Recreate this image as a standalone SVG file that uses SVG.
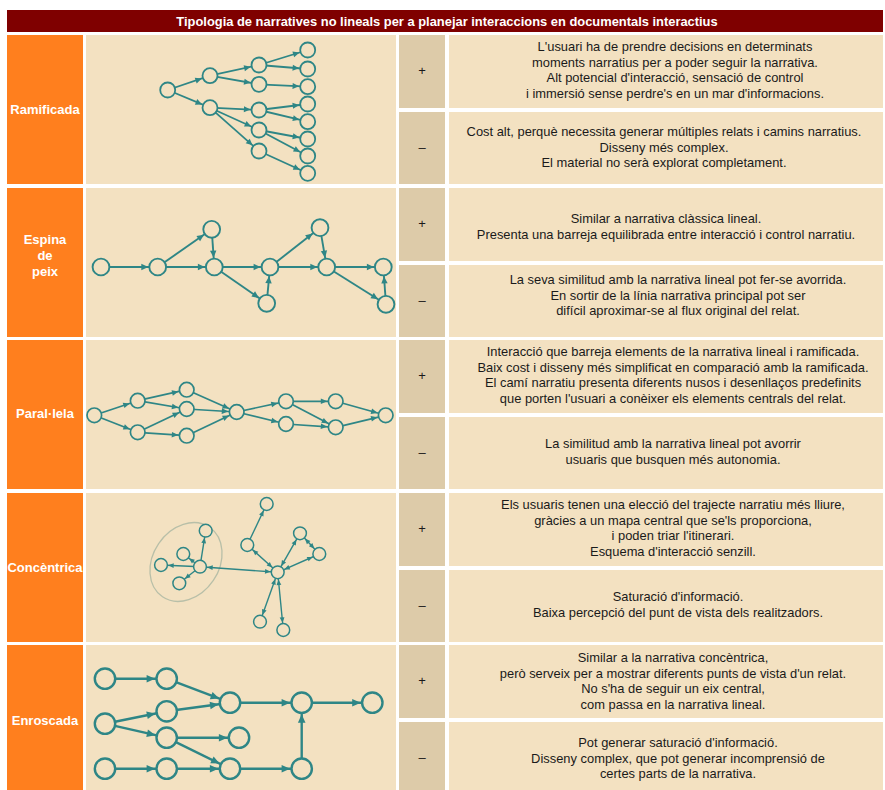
<svg xmlns="http://www.w3.org/2000/svg" width="885" height="790" viewBox="0 0 885 790">
<style>
.hdr{fill:#7f0000}
.lab{fill:#ff7f1e}
.dia{fill:#f3e1c1}
.sig{fill:#ddcba9}
.cel{fill:#f3e1c1}
text{font-family:"Liberation Sans",Arial,sans-serif}
.title{font-size:12.9px;font-weight:bold;fill:#fff;text-anchor:middle}
.l{font-size:13px;font-weight:bold;fill:#fff;text-anchor:middle}
.t{font-size:12.9px;fill:#1a1a1a;text-anchor:middle}
.s{font-size:13px;fill:#1a1a1a;text-anchor:middle}
.edges line{stroke:#2e8686;fill:none}
circle{fill:#f3e1c1;stroke:#2e8686}
.d1 line{stroke-width:1.8;marker-end:url(#a1)}
.d1 circle{stroke-width:1.8}
.d2 line{stroke-width:1.9;marker-end:url(#a2)}
.d2 circle{stroke-width:1.9}
.d3 line{stroke-width:1.7;marker-end:url(#a3)}
.d3 circle{stroke-width:1.7}
.d4 line{stroke-width:1.4;marker-end:url(#a4)}
.d4 line.bi{marker-start:url(#a4)}
.d4 circle{stroke-width:1.5}
.d5 line{stroke-width:2.4;marker-end:url(#a5)}
.d5 circle{stroke-width:2.4}
</style>
<defs>
<marker id="a1" markerUnits="userSpaceOnUse" orient="auto" refX="8.6" refY="0" markerWidth="10" markerHeight="10" overflow="visible"><path d="M-6.5,-3 L0,0 L-6.5,3z" fill="#2e8686"/></marker>
<marker id="a2" markerUnits="userSpaceOnUse" orient="auto" refX="9.4" refY="0" markerWidth="10" markerHeight="10" overflow="visible"><path d="M-7,-3.2 L0,0 L-7,3.2z" fill="#2e8686"/></marker>
<marker id="a3" markerUnits="userSpaceOnUse" orient="auto" refX="8.4" refY="0" markerWidth="10" markerHeight="10" overflow="visible"><path d="M-6.5,-2.8 L0,0 L-6.5,2.8z" fill="#2e8686"/></marker>
<marker id="a4" markerUnits="userSpaceOnUse" orient="auto-start-reverse" refX="7.2" refY="0" markerWidth="10" markerHeight="10" overflow="visible"><path d="M-5.5,-2.4 L0,0 L-5.5,2.4z" fill="#2e8686"/></marker>
<marker id="a5" markerUnits="userSpaceOnUse" orient="auto" refX="11.6" refY="0" markerWidth="12" markerHeight="12" overflow="visible"><path d="M-8.5,-3.8 L0,0 L-8.5,3.8z" fill="#2e8686"/></marker>
</defs>
<rect width="885" height="790" fill="#fff"/>

<g id="title">
<rect class="hdr" x="7" y="10" width="876" height="22"/>
<text class="title" x="447" y="25.5">Tipologia de narratives no lineals per a planejar interaccions en documentals interactius</text>
</g>

<!-- Row 1 -->
<g id="lab-ramificada"><rect class="lab" x="7" y="35" width="76" height="149"/><text class="l" x="45" y="114">Ramificada</text></g>
<g id="dia-ramificada">
<rect class="dia" x="86" y="35" width="310" height="149"/>
<g class="d1">
<g class="edges">
<line x1="167.7" y1="90" x2="210" y2="75.7"/>
<line x1="167.7" y1="90" x2="210" y2="107.7"/>
<line x1="210" y1="75.7" x2="259" y2="65"/>
<line x1="210" y1="75.7" x2="259" y2="84.3"/>
<line x1="259" y1="65" x2="307.7" y2="50"/>
<line x1="259" y1="65" x2="307.7" y2="69"/>
<line x1="259" y1="84.3" x2="307.7" y2="86.7"/>
<line x1="210" y1="107.7" x2="259" y2="110"/>
<line x1="210" y1="107.7" x2="259" y2="130"/>
<line x1="210" y1="107.7" x2="259" y2="151"/>
<line x1="259" y1="110" x2="307.7" y2="104"/>
<line x1="259" y1="110" x2="307.7" y2="121.7"/>
<line x1="259" y1="130" x2="307.7" y2="139"/>
<line x1="259" y1="130" x2="307.7" y2="156"/>
<line x1="259" y1="151" x2="307.7" y2="173.3"/>
</g>
<circle cx="167.7" cy="90" r="7.5"/>
<circle cx="210" cy="75.7" r="7.5"/>
<circle cx="210" cy="107.7" r="7.5"/>
<circle cx="259" cy="65" r="7.5"/>
<circle cx="259" cy="84.3" r="7.5"/>
<circle cx="259" cy="110" r="7.5"/>
<circle cx="259" cy="130" r="7.5"/>
<circle cx="259" cy="151" r="7.5"/>
<circle cx="307.7" cy="50" r="7.5"/>
<circle cx="307.7" cy="69" r="7.5"/>
<circle cx="307.7" cy="86.7" r="7.5"/>
<circle cx="307.7" cy="104" r="7.5"/>
<circle cx="307.7" cy="121.7" r="7.5"/>
<circle cx="307.7" cy="139" r="7.5"/>
<circle cx="307.7" cy="156" r="7.5"/>
<circle cx="307.7" cy="173.3" r="7.5"/>
</g>
</g>
<g id="plus-1"><rect class="sig" x="399" y="35" width="46" height="73"/><text class="s" x="422" y="75">+</text></g>
<g id="minus-1"><rect class="sig" x="399" y="112" width="46" height="72"/><text class="s" x="422" y="152">–</text></g>
<g id="pro-1"><rect class="cel" x="449" y="35" width="434" height="73"/>
<text class="t" x="675" y="51">L'usuari ha de prendre decisions en determinats</text>
<text class="t" x="675" y="66.5">moments narratius per a poder seguir la narrativa.</text>
<text class="t" x="675" y="82">Alt potencial d'interacció, sensació de control</text>
<text class="t" x="675" y="97.5">i immersió sense perdre's en un mar d'informacions.</text>
</g>
<g id="con-1"><rect class="cel" x="449" y="112" width="434" height="72"/>
<text class="t" x="664" y="136">Cost alt, perquè necessita generar múltiples relats i camins narratius.</text>
<text class="t" x="664" y="151.5">Disseny més complex.</text>
<text class="t" x="664" y="167">El material no serà explorat completament.</text>
</g>

<!-- Row 2 -->
<g id="lab-espina"><rect class="lab" x="7" y="188" width="76" height="149"/>
<text class="l" x="45" y="244">Espina</text><text class="l" x="45" y="260">de</text><text class="l" x="45" y="276">peix</text></g>
<g id="dia-espina">
<rect class="dia" x="86" y="188" width="310" height="149"/>
<g class="d2">
<g class="edges">
<line x1="101" y1="267" x2="157.7" y2="267"/>
<line x1="157.7" y1="267" x2="211.7" y2="229.3"/>
<line x1="157.7" y1="267" x2="214.3" y2="267"/>
<line x1="211.7" y1="229.3" x2="214.3" y2="267"/>
<line x1="214.3" y1="267" x2="270" y2="267"/>
<line x1="214.3" y1="267" x2="266.7" y2="303.3"/>
<line x1="266.7" y1="303.3" x2="270" y2="267"/>
<line x1="270" y1="267" x2="320" y2="227.7"/>
<line x1="270" y1="267" x2="326.7" y2="267"/>
<line x1="320" y1="227.7" x2="326.7" y2="267"/>
<line x1="326.7" y1="267" x2="383.3" y2="267"/>
<line x1="326.7" y1="267" x2="386" y2="304.3"/>
<line x1="386" y1="304.3" x2="383.3" y2="267"/>
</g>
<circle cx="101" cy="267" r="8.4"/>
<circle cx="157.7" cy="267" r="8.4"/>
<circle cx="211.7" cy="229.3" r="8.4"/>
<circle cx="214.3" cy="267" r="8.4"/>
<circle cx="266.7" cy="303.3" r="8.4"/>
<circle cx="270" cy="267" r="8.4"/>
<circle cx="320" cy="227.7" r="8.4"/>
<circle cx="326.7" cy="267" r="8.4"/>
<circle cx="383.3" cy="267" r="8.4"/>
<circle cx="386" cy="304.3" r="8.4"/>
</g>
</g>
<g id="plus-2"><rect class="sig" x="399" y="188" width="46" height="73"/><text class="s" x="422" y="228">+</text></g>
<g id="minus-2"><rect class="sig" x="399" y="265" width="46" height="72"/><text class="s" x="422" y="305">–</text></g>
<g id="pro-2"><rect class="cel" x="449" y="188" width="434" height="73"/>
<text class="t" x="666" y="223">Similar a narrativa clàssica lineal.</text>
<text class="t" x="666" y="238.5">Presenta una barreja equilibrada entre interacció i control narratiu.</text>
</g>
<g id="con-2"><rect class="cel" x="449" y="265" width="434" height="72"/>
<text class="t" x="678" y="284">La seva similitud amb la narrativa lineal pot fer-se avorrida.</text>
<text class="t" x="678" y="299.5">En sortir de la línia narrativa principal pot ser</text>
<text class="t" x="678" y="315">difícil aproximar-se al flux original del relat.</text>
</g>

<!-- Row 3 -->
<g id="lab-parallela"><rect class="lab" x="7" y="340" width="76" height="149"/><text class="l" x="45" y="418">Paral·lela</text></g>
<g id="dia-parallela">
<rect class="dia" x="86" y="340" width="310" height="149"/>
<g class="d3">
<g class="edges">
<line x1="94.3" y1="415.3" x2="137.7" y2="400.7"/>
<line x1="94.3" y1="415.3" x2="137.7" y2="432.3"/>
<line x1="137.7" y1="400.7" x2="186.7" y2="389.7"/>
<line x1="137.7" y1="400.7" x2="186.7" y2="409"/>
<line x1="137.7" y1="432.3" x2="186.7" y2="409"/>
<line x1="137.7" y1="432.3" x2="186.7" y2="435.7"/>
<line x1="186.7" y1="389.7" x2="236.7" y2="412"/>
<line x1="186.7" y1="409" x2="236.7" y2="412"/>
<line x1="186.7" y1="435.7" x2="236.7" y2="412"/>
<line x1="236.7" y1="412" x2="286" y2="401.3"/>
<line x1="236.7" y1="412" x2="286" y2="424"/>
<line x1="286" y1="401.3" x2="335.7" y2="401.3"/>
<line x1="286" y1="401.3" x2="335.7" y2="427.3"/>
<line x1="286" y1="424" x2="335.7" y2="427.3"/>
<line x1="335.7" y1="401.3" x2="385.7" y2="415.3"/>
<line x1="335.7" y1="427.3" x2="385.7" y2="415.3"/>
</g>
<circle cx="94.3" cy="415.3" r="7.3"/>
<circle cx="137.7" cy="400.7" r="7.3"/>
<circle cx="137.7" cy="432.3" r="7.3"/>
<circle cx="186.7" cy="389.7" r="7.3"/>
<circle cx="186.7" cy="409" r="7.3"/>
<circle cx="186.7" cy="435.7" r="7.3"/>
<circle cx="236.7" cy="412" r="7.3"/>
<circle cx="286" cy="401.3" r="7.3"/>
<circle cx="286" cy="424" r="7.3"/>
<circle cx="335.7" cy="401.3" r="7.3"/>
<circle cx="335.7" cy="427.3" r="7.3"/>
<circle cx="385.7" cy="415.3" r="7.3"/>
</g>
</g>
<g id="plus-3"><rect class="sig" x="399" y="340" width="46" height="73"/><text class="s" x="422" y="380">+</text></g>
<g id="minus-3"><rect class="sig" x="399" y="417" width="46" height="72"/><text class="s" x="422" y="457">–</text></g>
<g id="pro-3"><rect class="cel" x="449" y="340" width="434" height="73"/>
<text class="t" x="673" y="356">Interacció que barreja elements de la narrativa lineal i ramificada.</text>
<text class="t" x="673" y="371.5">Baix cost i disseny més simplificat en comparació amb la ramificada.</text>
<text class="t" x="673" y="387">El camí narratiu presenta diferents nusos i desenllaços predefinits</text>
<text class="t" x="673" y="402.5">que porten l'usuari a conèixer els elements centrals del relat.</text>
</g>
<g id="con-3"><rect class="cel" x="449" y="417" width="434" height="72"/>
<text class="t" x="673" y="448">La similitud amb la narrativa lineal pot avorrir</text>
<text class="t" x="673" y="463.5">usuaris que busquen més autonomia.</text>
</g>

<!-- Row 4 -->
<g id="lab-concentrica"><rect class="lab" x="7" y="493" width="76" height="149"/><text class="l" x="45" y="572">Concèntrica</text></g>
<g id="dia-concentrica">
<rect class="dia" x="86" y="493" width="310" height="149"/>
<ellipse cx="186" cy="562" rx="42" ry="33" transform="rotate(-56 186 562)" fill="none" stroke="#b8bfa8" stroke-width="1.3"/>
<g class="d4">
<g class="edges">
<line class="bi" x1="200" y1="566.7" x2="277.7" y2="572.3"/>
<line x1="200" y1="566.7" x2="205.7" y2="530.7"/>
<line x1="200" y1="566.7" x2="183.3" y2="554"/>
<line x1="200" y1="566.7" x2="161" y2="565"/>
<line x1="200" y1="566.7" x2="179.3" y2="583.3"/>
<line class="bi" x1="277.7" y1="572.3" x2="247.3" y2="545"/>
<line x1="247.3" y1="545" x2="266.7" y2="504"/>
<line class="bi" x1="277.7" y1="572.3" x2="300" y2="533.3"/>
<line class="bi" x1="300" y1="533.3" x2="319.3" y2="554"/>
<line class="bi" x1="277.7" y1="572.3" x2="319.3" y2="554"/>
<line class="bi" x1="277.7" y1="572.3" x2="260" y2="621.7"/>
<line class="bi" x1="277.7" y1="572.3" x2="283.3" y2="630"/>
</g>
<circle cx="200" cy="566.7" r="6.4"/>
<circle cx="205.7" cy="530.7" r="6.4"/>
<circle cx="183.3" cy="554" r="6.4"/>
<circle cx="161" cy="565" r="6.4"/>
<circle cx="179.3" cy="583.3" r="6.4"/>
<circle cx="277.7" cy="572.3" r="6.4"/>
<circle cx="247.3" cy="545" r="6.4"/>
<circle cx="266.7" cy="504" r="6.4"/>
<circle cx="300" cy="533.3" r="6.4"/>
<circle cx="319.3" cy="554" r="6.4"/>
<circle cx="260" cy="621.7" r="6.4"/>
<circle cx="283.3" cy="630" r="6.4"/>
</g>
</g>
<g id="plus-4"><rect class="sig" x="399" y="493" width="46" height="73"/><text class="s" x="422" y="533">+</text></g>
<g id="minus-4"><rect class="sig" x="399" y="570" width="46" height="72"/><text class="s" x="422" y="610">–</text></g>
<g id="pro-4"><rect class="cel" x="449" y="493" width="434" height="73"/>
<text class="t" x="673" y="509">Els usuaris tenen una elecció del trajecte narratiu més lliure,</text>
<text class="t" x="673" y="524.5">gràcies a un mapa central que se'ls proporciona,</text>
<text class="t" x="673" y="540">i poden triar l'itinerari.</text>
<text class="t" x="673" y="555.5">Esquema d'interacció senzill.</text>
</g>
<g id="con-4"><rect class="cel" x="449" y="570" width="434" height="72"/>
<text class="t" x="678" y="601">Saturació d'informació.</text>
<text class="t" x="678" y="616.5">Baixa percepció del punt de vista dels realitzadors.</text>
</g>

<!-- Row 5 -->
<g id="lab-enroscada"><rect class="lab" x="7" y="645" width="76" height="145"/><text class="l" x="45" y="725">Enroscada</text></g>
<g id="dia-enroscada">
<rect class="dia" x="86" y="645" width="310" height="145"/>
<g class="d5">
<g class="edges">
<line x1="105" y1="678.7" x2="166.7" y2="678.7"/>
<line x1="166.7" y1="678.7" x2="230" y2="702.7"/>
<line x1="105" y1="723.7" x2="166.7" y2="711.3"/>
<line x1="105" y1="723.7" x2="166.7" y2="737.7"/>
<line x1="166.7" y1="711.3" x2="230" y2="702.7"/>
<line x1="166.7" y1="737.7" x2="239" y2="737.7"/>
<line x1="166.7" y1="737.7" x2="230" y2="768.7"/>
<line x1="105" y1="768.7" x2="166.7" y2="768.7"/>
<line x1="166.7" y1="768.7" x2="230" y2="768.7"/>
<line x1="230" y1="702.7" x2="301.7" y2="702.7"/>
<line x1="230" y1="768.7" x2="301.7" y2="768.7"/>
<line x1="301.7" y1="768.7" x2="301.7" y2="702.7"/>
<line x1="301.7" y1="702.7" x2="372.3" y2="702.7"/>
</g>
<circle cx="105" cy="678.7" r="10.2"/>
<circle cx="166.7" cy="678.7" r="10.2"/>
<circle cx="105" cy="723.7" r="10.2"/>
<circle cx="166.7" cy="711.3" r="10.2"/>
<circle cx="166.7" cy="737.7" r="10.2"/>
<circle cx="105" cy="768.7" r="10.2"/>
<circle cx="166.7" cy="768.7" r="10.2"/>
<circle cx="230" cy="702.7" r="10.2"/>
<circle cx="239" cy="737.7" r="10.2"/>
<circle cx="230" cy="768.7" r="10.2"/>
<circle cx="301.7" cy="702.7" r="10.2"/>
<circle cx="301.7" cy="768.7" r="10.2"/>
<circle cx="372.3" cy="702.7" r="10.2"/>
</g>
</g>
<g id="plus-5"><rect class="sig" x="399" y="645" width="46" height="73"/><text class="s" x="422" y="685">+</text></g>
<g id="minus-5"><rect class="sig" x="399" y="722" width="46" height="68"/><text class="s" x="422" y="762">–</text></g>
<g id="pro-5"><rect class="cel" x="449" y="645" width="434" height="73"/>
<text class="t" x="673" y="662">Similar a la narrativa concèntrica,</text>
<text class="t" x="673" y="677.5">però serveix per a mostrar diferents punts de vista d'un relat.</text>
<text class="t" x="673" y="693">No s'ha de seguir un eix central,</text>
<text class="t" x="673" y="708.5">com passa en la narrativa lineal.</text>
</g>
<g id="con-5"><rect class="cel" x="449" y="722" width="434" height="68"/>
<text class="t" x="678" y="747">Pot generar saturació d'informació.</text>
<text class="t" x="678" y="762.5">Disseny complex, que pot generar incomprensió de</text>
<text class="t" x="678" y="778">certes parts de la narrativa.</text>
</g>
</svg>
